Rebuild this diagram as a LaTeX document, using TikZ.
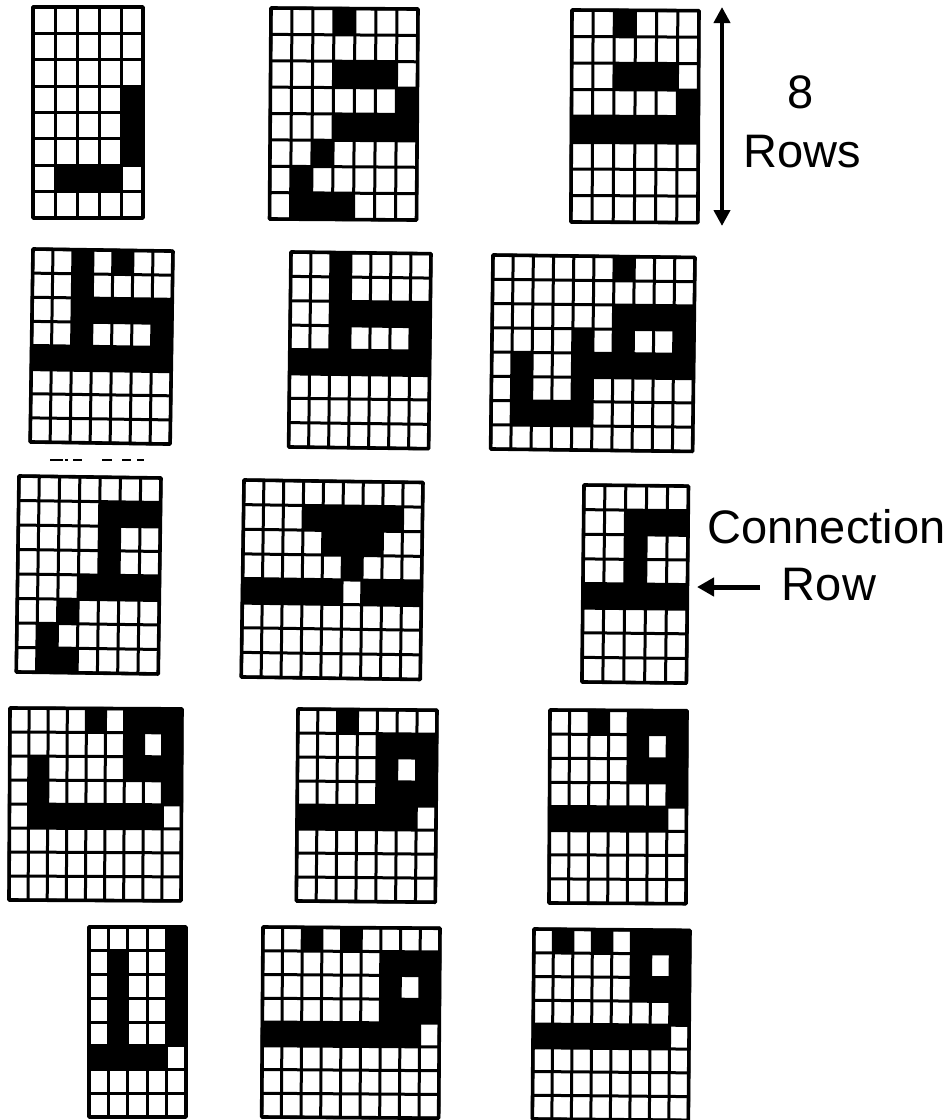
\documentclass[tikz,border=0pt]{standalone}
\usepackage{fontspec}
\setmainfont{Liberation Sans}
\usetikzlibrary{arrows.meta}

\tikzset{
  cellline/.style={line width=3pt},
  frameline/.style={line width=3.6pt,line join=round},
  note/.style={font=\fontsize{47}{50}\selectfont,inner sep=0pt,anchor=base},
  bigarrow/.style={line width=4pt,{Stealth[length=16pt,width=16pt,inset=0pt]}-{Stealth[length=16pt,width=16pt,inset=0pt]}},
  rowarrow/.style={line width=5pt,-{Stealth[length=17pt,width=18pt,inset=0pt]}}
}

% left, top, width, height, columns, tilt, black cells (col/row)
\newcommand{\pixgrid}[7]{%
  \pgfmathsetmacro{\cellw}{#3/#5}
  \pgfmathsetmacro{\cellh}{#4/8}
  \begin{scope}[shift={(#1,#2)},rotate=#6,xscale=\cellw,yscale=\cellh]
    \foreach \c/\r in {#7} {\fill (\c,\r) rectangle ++(1,1);}
    \foreach \i in {0,...,#5} {\draw[cellline] (\i,0) -- (\i,8);}
    \foreach \j in {0,...,8} {\draw[cellline] (0,\j) -- (#5,\j);}
    \draw[frameline] (0,0) rectangle (#5,8);
  \end{scope}
}

\begin{document}
\begin{tikzpicture}[x=1pt,y=-1pt]
  \useasboundingbox (0,0) rectangle (950,1120);

  % first row
  \pixgrid{33}{7}{110}{211}{5}{0}{4/3,4/4,4/5,1/6,2/6,3/6}
  \pixgrid{271}{8}{147}{211}{7}{-0.4}{3/0,3/2,4/2,5/2,6/3,3/4,4/4,5/4,6/4,2/5,1/6,1/7,2/7,3/7}
  \pixgrid{572}{10}{127}{212}{6}{-0.3}{2/0,2/2,3/2,4/2,5/3,0/4,1/4,2/4,3/4,4/4,5/4}

  % second row
  \pixgrid{33}{249}{140}{193}{7}{-0.85}{2/0,4/0,2/1,2/2,3/2,4/2,5/2,6/2,2/3,6/3,0/4,1/4,2/4,3/4,4/4,5/4,6/4}
  \pixgrid{291}{252}{140}{195}{7}{-0.7}{2/0,2/1,2/2,3/2,4/2,5/2,6/2,2/3,6/3,0/4,1/4,2/4,3/4,4/4,5/4,6/4}
  \pixgrid{493}{255}{202}{194}{10}{-0.7}{6/0,6/2,7/2,8/2,9/2,4/3,6/3,9/3,1/4,4/4,5/4,6/4,7/4,8/4,9/4,1/5,4/5,1/6,2/6,3/6,4/6}

  % cut-off marks under the first grid of the second row
  \foreach \a/\b in {50/63,65/68,73/82,102/112,122/131,137/144} {\draw[line width=1.2pt] (\a,460) -- (\b,460);}

  % third row
  \pixgrid{19}{476}{142}{196}{7}{-0.8}{4/1,5/1,6/1,4/2,4/3,3/4,4/4,5/4,6/4,2/5,1/6,1/7,2/7}
  \pixgrid{244}{480}{179}{197}{9}{-0.8}{3/1,4/1,5/1,6/1,7/1,4/2,5/2,6/2,5/3,0/4,1/4,2/4,3/4,4/4,6/4,7/4,8/4}
  \pixgrid{584}{485}{104.5}{197}{5}{-0.6}{2/1,3/1,4/1,2/2,2/3,0/4,1/4,2/4,3/4,4/4}

  % fourth row
  \pixgrid{10}{708}{172}{192}{9}{-0.3}{4/0,6/0,7/0,8/0,6/1,8/1,1/2,6/2,7/2,8/2,1/3,8/3,1/4,2/4,3/4,4/4,5/4,6/4,7/4}
  \pixgrid{298}{709}{139}{192}{7}{-0.5}{2/0,4/1,5/1,6/1,4/2,6/2,4/3,5/3,6/3,0/4,1/4,2/4,3/4,4/4,5/4}
  \pixgrid{550}{710}{137}{193}{7}{-0.3}{2/0,4/0,5/0,6/0,4/1,6/1,4/2,5/2,6/2,6/3,0/4,1/4,2/4,3/4,4/4,5/4}

  % fifth row
  \pixgrid{89}{927}{97}{190}{5}{0}{4/0,1/1,4/1,1/2,4/2,1/3,4/3,1/4,4/4,0/5,1/5,2/5,3/5}
  \pixgrid{263}{927}{177}{190}{9}{-0.4}{2/0,4/0,6/1,7/1,8/1,6/2,8/2,6/3,7/3,8/3,0/4,1/4,2/4,3/4,4/4,5/4,6/4,7/4}
  \pixgrid{534}{929}{156}{190}{8}{-0.5}{1/0,3/0,5/0,6/0,7/0,5/1,7/1,5/2,6/2,7/2,7/3,0/4,1/4,2/4,3/4,4/4,5/4,6/4}

  % labels
  \node[note] (eight) at (801,108) {8};
  \node[note] (rows) at (802,167) {Rows};
  \node[note] (conn) at (826.5,543) {Connection};
  \node[note] (row) at (829,600) {Row};

  \coordinate (span top) at (722,7);
  \coordinate (span bot) at (722,226);
  \draw[bigarrow] (span top) -- (span bot);

  \coordinate (row tail) at (760,587);
  \coordinate (row tip) at (697,587);
  \draw[rowarrow] (row tail) -- (row tip);
\end{tikzpicture}
\end{document}
